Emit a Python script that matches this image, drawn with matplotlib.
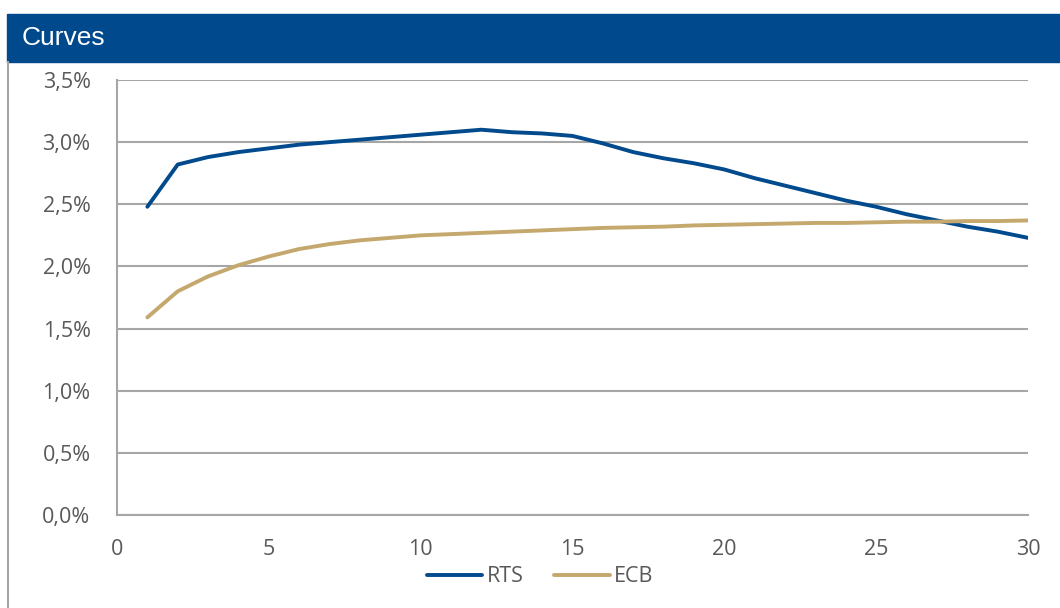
from matplotlib import pyplot as plt
from matplotlib.patches import Rectangle
from matplotlib.lines import Line2D
from matplotlib.ticker import FuncFormatter

maturity = list(range(1, 31))
rts = [2.48, 2.82, 2.88, 2.92, 2.95, 2.98, 3.00, 3.02, 3.04, 3.06,
       3.08, 3.10, 3.08, 3.07, 3.05, 2.99, 2.92, 2.87, 2.83, 2.78,
       2.71, 2.65, 2.59, 2.53, 2.48, 2.42, 2.37, 2.32, 2.28, 2.23]
ecb = [1.59, 1.80, 1.92, 2.01, 2.08, 2.14, 2.18, 2.21, 2.23, 2.25,
       2.26, 2.27, 2.28, 2.29, 2.30, 2.31, 2.315, 2.32, 2.33, 2.335,
       2.34, 2.345, 2.35, 2.35, 2.355, 2.36, 2.36, 2.365, 2.365, 2.37]
y_ticks = [0.0, 0.5, 1.0, 1.5, 2.0, 2.5, 3.0, 3.5]
x_ticks = [0, 5, 10, 15, 20, 25, 30]
title = "Curves"

BLUE = '#004A8D'
TAN = '#C4A86E'
GRID = '#A6A6A6'
TXT = '#595959'

plt.rcParams['font.family'] = ['Open Sans', 'DejaVu Sans']

fig = plt.figure(figsize=(10.6, 6.08), dpi=100)

# title bar and left border
fig.patches.append(Rectangle((7 / 1060, 1 - 62 / 608), 1 - 7 / 1060, 48 / 608,
                             transform=fig.transFigure, color='#00498D', zorder=0))
fig.text(22 / 1060, 1 - 38 / 608, title, color='white', fontsize=19,
         family='Liberation Sans', va='center', ha='left')
fig.add_artist(Line2D([7.5 / 1060, 7.5 / 1060], [0, 1 - 62 / 608],
                      transform=fig.transFigure, color=GRID, lw=1.5))

ax = fig.add_axes([117 / 1060, 1 - 515 / 608, (1028 - 117) / 1060, (515 - 80) / 608])
ax.plot(maturity, rts, color=BLUE, lw=2.8, label='RTS', solid_capstyle='round')
ax.plot(maturity, ecb, color=TAN, lw=2.8, label='ECB', solid_capstyle='round')

ax.set_xlim(0, 30)
ax.set_ylim(0, 3.5)
ax.set_xticks(x_ticks)
ax.set_yticks(y_ticks)
ax.yaxis.set_major_formatter(FuncFormatter(lambda v, p: f"{v:.1f}%".replace('.', ',')))
ax.grid(axis='y', color=GRID, lw=1.5)
ax.set_axisbelow(True)
for s in ['top', 'right']:
    ax.spines[s].set_visible(False)
for s in ['left', 'bottom']:
    ax.spines[s].set_color(GRID)
    ax.spines[s].set_linewidth(1.5)
ax.tick_params(length=0, labelsize=15.5, labelcolor=TXT)
ax.tick_params(axis='y', pad=19)
ax.tick_params(axis='x', pad=17)

fig.legend(loc='center', bbox_to_anchor=(540 / 1060, 1 - 577 / 608), ncol=2,
           frameon=False, fontsize=15.5, labelcolor=TXT, handlelength=2.6,
           handletextpad=0.2, columnspacing=1.4)

fig.savefig('out.png', dpi=100)
